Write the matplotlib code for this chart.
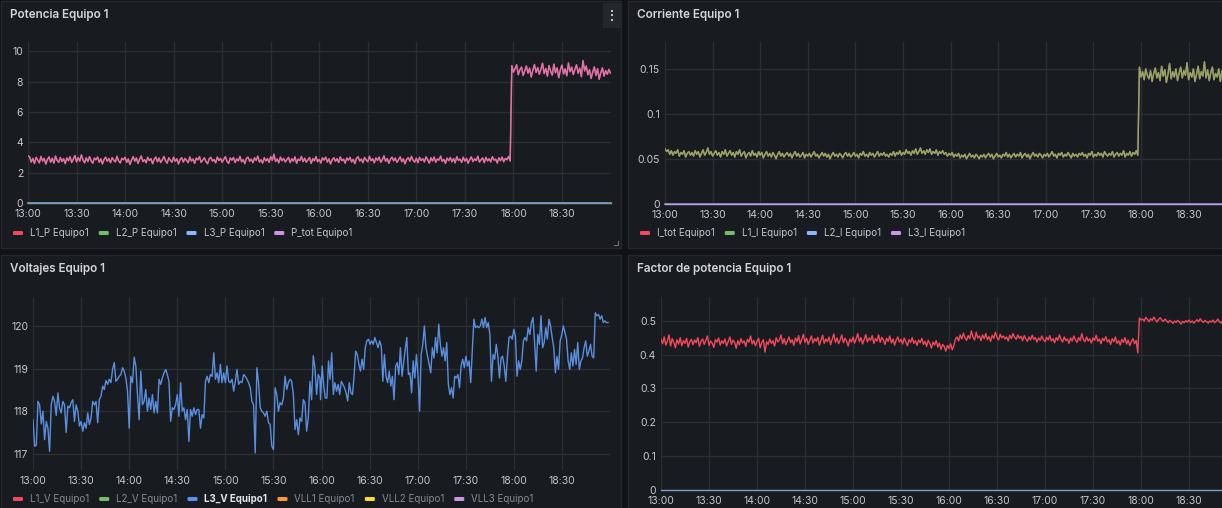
import numpy as np
import matplotlib
matplotlib.use("Agg")
import matplotlib.pyplot as plt
from matplotlib.patches import Rectangle, FancyBboxPatch

# ---------------- DATA ----------------
time_labels = ["13:00", "13:30", "14:00", "14:30", "15:00", "15:30",
               "16:00", "16:30", "17:00", "17:30", "18:00", "18:30"]

# Potencia (1-min samples 13:00 -> 19:00)
L1_P = [
    3.12, 3.05, 2.71, 2.95, 2.62, 3.02, 2.84, 2.66, 3.08, 2.78, 2.95, 2.58, 2.88, 3.05, 2.70, 2.96, 2.64, 3.10, 2.82, 2.69,
    3.01, 2.75, 2.93, 2.61, 2.98, 2.80, 3.06, 2.68, 2.90, 3.14, 2.72, 3.00, 2.77, 3.18, 2.85, 2.66, 2.99, 2.74, 3.07, 2.80,
    2.63, 2.97, 2.86, 3.04, 2.70, 2.92, 2.59, 2.88, 3.03, 2.76, 2.94, 2.67, 3.00, 2.83, 2.72, 3.09, 2.79, 2.65, 2.96, 2.86,
    3.02, 2.69, 2.91, 2.55, 2.84, 3.06, 2.77, 2.98, 2.62, 2.90, 3.11, 2.74, 2.87, 2.66, 3.02, 2.81, 2.93, 2.60, 2.89, 3.04,
    2.73, 2.97, 2.68, 2.85, 3.08, 2.79, 2.64, 2.99, 2.83, 2.70, 3.03, 2.76, 2.92, 2.58, 2.88, 3.00, 2.71, 2.95, 2.82, 2.67,
    3.05, 2.78, 2.91, 2.63, 2.97, 2.86, 3.07, 2.69, 2.84, 2.99, 2.74, 2.60, 2.93, 3.02, 2.77, 2.88, 2.66, 3.04, 2.81, 2.95,
    2.70, 2.89, 3.06, 2.75, 2.62, 2.98, 2.84, 3.01, 2.68, 2.92, 2.79, 3.08, 2.73, 2.87, 2.61, 2.96, 3.03, 2.76, 2.90, 2.67,
    2.99, 2.82, 3.10, 2.71, 2.86, 2.64, 3.00, 2.78, 2.94, 2.69, 3.06, 2.83, 3.22, 2.75, 2.91, 2.66, 3.04, 2.80, 2.95, 2.72,
    2.87, 3.02, 2.68, 2.93, 2.77, 3.05, 2.63, 2.90, 2.81, 3.08, 2.74, 2.96, 2.70, 2.85, 3.01, 2.62, 2.94, 2.79, 3.07, 2.73,
    2.88, 2.65, 2.99, 2.84, 3.03, 2.71, 2.92, 2.59, 2.86, 3.00, 2.76, 2.94, 2.68, 3.05, 2.80, 2.90, 2.64, 2.97, 2.83, 3.02,
    2.72, 2.89, 2.61, 2.95, 3.06, 2.78, 2.91, 2.67, 3.01, 2.85, 2.73, 3.09, 2.80, 2.93, 2.66, 2.98, 2.82, 3.04, 2.70, 2.87,
    3.12, 2.76, 2.94, 2.63, 2.90, 3.03, 2.79, 2.97, 2.69, 2.86, 3.05, 2.74, 2.92, 2.60, 2.88, 3.00, 2.77, 3.08, 2.83, 2.71,
    2.96, 2.67, 3.02, 2.81, 2.93, 2.72, 3.06, 2.85, 2.64, 2.99, 2.78, 3.04, 2.70, 2.91, 2.84, 3.10, 2.75, 2.89, 2.62, 2.97,
    2.80, 3.01, 2.73, 2.94, 2.66, 3.07, 2.82, 2.90, 2.69, 3.03, 2.77, 2.95, 2.63, 2.88, 3.05, 2.74, 2.92, 2.81, 3.09, 2.71,
    2.86, 2.98, 2.67, 3.02, 2.79, 2.93, 2.72, 3.06, 2.84, 2.90, 2.65, 2.99, 2.80, 3.04, 2.73, 2.95, 2.86, 3.08, 2.78,
    9.05, 8.62, 8.85, 9.10, 8.45, 8.78, 8.95, 8.40, 8.70, 9.02, 8.55, 8.88, 8.30, 8.74, 9.12, 8.60, 8.92, 8.48, 8.81, 9.20,
    8.52, 8.86, 8.35, 9.05, 8.68, 8.42, 9.15, 8.58, 8.90, 8.25, 8.76, 9.08, 8.50, 8.84, 8.38, 9.22, 8.64, 8.95, 8.46, 8.80,
    9.10, 8.55, 8.88, 8.32, 9.38, 8.70, 9.02, 8.45, 8.78, 8.20, 8.62, 8.96, 8.40, 8.85, 8.15, 8.58, 8.90, 8.36, 8.72, 8.48,
    8.80, 8.55,
]
L2_P = [0.0] * 361
L3_P = [0.0] * 361

# Corriente
L1_I = [
    0.061, 0.058, 0.060, 0.055, 0.059, 0.054, 0.058, 0.056, 0.060, 0.053, 0.057, 0.055, 0.059, 0.052, 0.056, 0.058, 0.054, 0.057, 0.053, 0.059,
    0.055, 0.058, 0.052, 0.056, 0.060, 0.054, 0.057, 0.062, 0.055, 0.058, 0.053, 0.056, 0.059, 0.054, 0.057, 0.052, 0.058, 0.055, 0.060, 0.053,
    0.056, 0.059, 0.054, 0.057, 0.052, 0.058, 0.055, 0.060, 0.053, 0.056, 0.058, 0.051, 0.055, 0.057, 0.053, 0.059, 0.054, 0.056, 0.052, 0.058,
    0.054, 0.057, 0.051, 0.055, 0.058, 0.053, 0.056, 0.052, 0.057, 0.054, 0.050, 0.055, 0.058, 0.053, 0.056, 0.052, 0.055, 0.057, 0.053, 0.056,
    0.051, 0.055, 0.058, 0.053, 0.056, 0.052, 0.054, 0.057, 0.051, 0.055, 0.053, 0.056, 0.052, 0.055, 0.058, 0.053, 0.055, 0.051, 0.054, 0.057,
    0.053, 0.056, 0.052, 0.055, 0.050, 0.054, 0.057, 0.053, 0.055, 0.052, 0.056, 0.054, 0.051, 0.055, 0.057, 0.053, 0.056, 0.052, 0.054, 0.057,
    0.053, 0.055, 0.051, 0.056, 0.054, 0.058, 0.053, 0.055, 0.052, 0.057, 0.054, 0.056, 0.052, 0.055, 0.058, 0.053, 0.056, 0.054, 0.057, 0.053,
    0.055, 0.052, 0.056, 0.054, 0.058, 0.053, 0.057, 0.055, 0.059, 0.054, 0.057, 0.055, 0.060, 0.056, 0.058, 0.054, 0.059, 0.056, 0.061, 0.055,
    0.058, 0.062, 0.056, 0.059, 0.055, 0.060, 0.057, 0.061, 0.055, 0.058, 0.056, 0.060, 0.054, 0.058, 0.056, 0.059, 0.055, 0.057, 0.053, 0.056,
    0.054, 0.057, 0.052, 0.055, 0.053, 0.056, 0.051, 0.054, 0.052, 0.055, 0.050, 0.053, 0.056, 0.052, 0.054, 0.051, 0.055, 0.053, 0.050, 0.054,
    0.052, 0.055, 0.051, 0.054, 0.056, 0.052, 0.055, 0.050, 0.053, 0.056, 0.052, 0.054, 0.051, 0.055, 0.053, 0.057, 0.052, 0.055, 0.051, 0.054,
    0.056, 0.052, 0.055, 0.053, 0.057, 0.051, 0.054, 0.056, 0.052, 0.055, 0.050, 0.054, 0.057, 0.053, 0.055, 0.052, 0.056, 0.054, 0.051, 0.055,
    0.053, 0.056, 0.052, 0.055, 0.058, 0.053, 0.055, 0.051, 0.056, 0.054, 0.057, 0.052, 0.055, 0.053, 0.057, 0.054, 0.051, 0.056, 0.053, 0.055,
    0.052, 0.056, 0.054, 0.057, 0.053, 0.055, 0.051, 0.056, 0.054, 0.058, 0.052, 0.055, 0.053, 0.057, 0.054, 0.056, 0.052, 0.058, 0.055, 0.053,
    0.056, 0.054, 0.058, 0.052, 0.055, 0.057, 0.053, 0.056, 0.054, 0.059, 0.052, 0.056, 0.054, 0.058, 0.053, 0.057, 0.055, 0.059, 0.054,
    0.152, 0.141, 0.147, 0.138, 0.150, 0.143, 0.139, 0.148, 0.136, 0.145, 0.151, 0.140, 0.146, 0.137, 0.153, 0.142, 0.149, 0.135, 0.144, 0.156,
    0.139, 0.147, 0.141, 0.150, 0.137, 0.145, 0.152, 0.140, 0.148, 0.143, 0.157, 0.138, 0.146, 0.141, 0.150, 0.136, 0.144, 0.153, 0.139, 0.147,
    0.142, 0.158, 0.140, 0.149, 0.137, 0.146, 0.152, 0.138, 0.145, 0.141, 0.150, 0.136, 0.148, 0.143, 0.155, 0.139, 0.146, 0.141, 0.151, 0.137,
    0.145, 0.142,
]
L2_I = [0.0] * 361
L3_I = [0.0] * 361

# Voltaje L3 (two traced stretches: 13:00-15:59 and 15:59-18:59)
volt_a = [
    117.8, 117.18, 117.2, 118.23, 118.15, 117.7, 118.0, 117.33, 117.76, 117.6,
    117.06, 118.15, 118.35, 118.23, 117.9, 118.43, 118.08, 117.96, 118.23, 118.15,
    117.5, 118.12, 118.08, 118.2, 118.27, 117.76, 118.15, 118.0, 117.65, 117.76,
    117.53, 117.73, 117.6, 117.96, 117.69, 117.84, 118.23, 118.15, 118.23, 117.73,
    118.27, 118.35, 118.59, 118.51, 118.72, 118.63, 118.75, 118.67, 118.98, 119.14,
    118.7, 118.75, 118.82, 118.86, 119.02, 118.94, 118.78, 118.47, 117.6, 118.82,
    118.67, 119.27, 119.06, 118.39, 117.8, 118.94, 118.15, 118.23, 118.51, 118.0,
    118.31, 118.04, 118.39, 117.96, 118.23, 117.96, 118.75, 118.63, 118.78, 118.9,
    118.98, 118.86, 118.7, 117.76, 118.08, 118.04, 118.15, 118.39, 117.88, 118.67,
    118.0, 118.08, 117.8, 118.04, 117.29, 118.04, 117.88, 118.08, 117.92, 118.04,
    118.04, 117.6, 117.92, 117.84, 118.7, 118.82, 118.67, 118.86, 118.82, 119.37,
    118.75, 118.9, 118.67, 119.1, 118.67, 118.9, 118.67, 119.06, 118.7, 118.67,
    118.75, 118.47, 118.7, 118.98, 118.63, 118.7, 118.67, 118.86, 118.82, 118.75,
    118.67, 118.55, 118.23, 118.15, 117.02, 119.02, 118.67, 118.08, 118.0, 117.96,
    117.88, 118.0, 117.73, 117.69, 117.18, 117.1, 118.55, 118.39, 118.0, 118.2,
    118.15, 118.31, 118.82, 118.51, 118.67, 118.75, 118.7, 118.39, 117.57, 117.8,
    117.45, 117.84, 117.76, 118.27, 118.2, 117.53, 117.84, 118.7, 118.27, 119.3,
    119.02, 118.39, 118.86, 118.78,
]
volt_b = [
    118.27, 119.06, 118.59, 118.31, 118.31, 119.18, 118.75, 119.37, 118.39, 118.67,
    118.47, 118.63, 118.39, 118.7, 118.63, 118.55, 118.43, 118.24, 118.67, 118.43,
    118.39, 118.82, 119.41, 119.33, 119.1, 118.94, 119.22, 118.98, 119.49, 119.65,
    119.69, 119.57, 119.65, 119.57, 119.73, 119.61, 119.49, 119.65, 119.53, 118.7,
    119.33, 118.82, 118.67, 118.94, 118.59, 118.82, 118.27, 119.06, 119.14, 118.86,
    119.49, 118.82, 119.14, 119.45, 119.73, 118.86, 118.9, 118.43, 119.18, 118.78,
    119.33, 118.86, 118.0, 119.33, 119.57, 120.0, 119.49, 119.29, 119.1, 118.9,
    119.49, 119.25, 119.73, 119.37, 120.04, 119.57, 119.29, 119.49, 119.18, 119.61,
    118.63, 118.39, 118.55, 118.31, 118.82, 118.78, 118.86, 118.55, 119.06, 119.22,
    119.02, 119.29, 119.06, 119.18, 118.67, 119.41, 120.16, 119.96, 120.0, 119.96,
    120.0, 120.16, 119.96, 120.2, 119.96, 120.08, 119.8, 118.7, 119.33, 119.22,
    119.57, 119.29, 118.78, 119.25, 119.29, 119.06, 118.7, 119.29, 119.73, 119.76,
    119.69, 119.92, 119.76, 118.82, 119.18, 118.98, 119.18, 119.65, 119.73, 119.65,
    119.96, 119.8, 120.08, 120.2, 119.61, 118.94, 119.8, 119.57, 120.24, 119.49,
    119.61, 119.96, 119.69, 120.16, 120.0, 119.73, 119.49, 118.9, 119.29, 118.98,
    119.65, 119.8, 120.0, 119.84, 119.69, 119.18, 118.98, 119.37, 119.06, 119.45,
    119.1, 119.61, 118.98, 119.18, 119.25, 119.49, 119.65, 119.29, 119.41, 119.57,
    119.29, 119.25, 120.31, 120.24, 120.27, 120.16, 120.24, 120.08, 120.12, 120.08,
    120.08,
]
volt_a_span = (0.0, 179.0)      # minutes after 13:00
volt_b_span = (179.4, 358.8)

# Factor de potencia
FP_1 = [
    0.445, 0.432, 0.452, 0.428, 0.440, 0.458, 0.425, 0.447, 0.436, 0.420, 0.444, 0.431, 0.450, 0.426, 0.441, 0.433, 0.448, 0.422, 0.438, 0.445,
    0.429, 0.443, 0.435, 0.450, 0.424, 0.439, 0.446, 0.430, 0.442, 0.455, 0.427, 0.440, 0.434, 0.421, 0.444, 0.437, 0.449, 0.428, 0.441, 0.433,
    0.446, 0.425, 0.438, 0.452, 0.430, 0.443, 0.436, 0.418, 0.441, 0.429, 0.447, 0.434, 0.440, 0.424, 0.445, 0.437, 0.455, 0.431, 0.442, 0.426,
    0.439, 0.448, 0.420, 0.436, 0.444, 0.407, 0.438, 0.430, 0.446, 0.433, 0.441, 0.425, 0.450, 0.437, 0.443, 0.458, 0.432, 0.447, 0.429, 0.440,
    0.452, 0.435, 0.444, 0.427, 0.449, 0.438, 0.456, 0.431, 0.445, 0.460, 0.436, 0.448, 0.430, 0.442, 0.455, 0.434, 0.447, 0.439, 0.451, 0.428,
    0.443, 0.457, 0.433, 0.446, 0.438, 0.452, 0.429, 0.445, 0.461, 0.436, 0.449, 0.432, 0.444, 0.458, 0.435, 0.448, 0.440, 0.425, 0.446, 0.437,
    0.452, 0.434, 0.447, 0.462, 0.438, 0.450, 0.431, 0.445, 0.459, 0.437, 0.449, 0.442, 0.456, 0.433, 0.447, 0.440, 0.458, 0.436, 0.451, 0.443,
    0.430, 0.448, 0.439, 0.455, 0.434, 0.446, 0.428, 0.443, 0.452, 0.437, 0.445, 0.431, 0.449, 0.438, 0.426, 0.444, 0.436, 0.450, 0.433, 0.441,
    0.427, 0.443, 0.435, 0.448, 0.430, 0.439, 0.424, 0.442, 0.433, 0.419, 0.437, 0.428, 0.441, 0.422, 0.434, 0.415, 0.430, 0.424, 0.410, 0.427,
    0.418, 0.432, 0.414, 0.426, 0.445, 0.452, 0.440, 0.458, 0.446, 0.463, 0.449, 0.442, 0.456, 0.447, 0.470, 0.451, 0.443, 0.466, 0.449, 0.455,
    0.441, 0.458, 0.447, 0.462, 0.444, 0.453, 0.439, 0.457, 0.448, 0.466, 0.450, 0.443, 0.460, 0.449, 0.455, 0.446, 0.452, 0.440, 0.457, 0.447,
    0.462, 0.451, 0.445, 0.458, 0.448, 0.454, 0.441, 0.456, 0.446, 0.439, 0.452, 0.443, 0.457, 0.445, 0.450, 0.437, 0.449, 0.442, 0.455, 0.444,
    0.438, 0.451, 0.443, 0.456, 0.440, 0.447, 0.435, 0.450, 0.442, 0.458, 0.445, 0.437, 0.452, 0.441, 0.446, 0.433, 0.449, 0.440, 0.455, 0.443,
    0.436, 0.450, 0.441, 0.462, 0.444, 0.438, 0.452, 0.440, 0.447, 0.434, 0.449, 0.442, 0.457, 0.439, 0.446, 0.432, 0.448, 0.441, 0.453, 0.437,
    0.444, 0.430, 0.447, 0.438, 0.452, 0.433, 0.441, 0.428, 0.445, 0.436, 0.450, 0.431, 0.443, 0.426, 0.439, 0.447, 0.432, 0.442, 0.405,
    0.508, 0.502, 0.505, 0.499, 0.510, 0.504, 0.497, 0.506, 0.501, 0.511, 0.503, 0.496, 0.504, 0.509, 0.502, 0.498, 0.505, 0.500, 0.494, 0.501,
    0.497, 0.492, 0.499, 0.495, 0.501, 0.496, 0.490, 0.498, 0.494, 0.500, 0.496, 0.502, 0.495, 0.499, 0.493, 0.498, 0.503, 0.497, 0.506, 0.499,
    0.495, 0.501, 0.497, 0.493, 0.499, 0.496, 0.502, 0.494, 0.498, 0.505, 0.497, 0.493, 0.500, 0.496, 0.491, 0.498, 0.495, 0.501, 0.497, 0.494,
    0.499, 0.496,
]
FP_2 = [0.0] * 361

p_ticks = [0, 2, 4, 6, 8, 10]
p_ticklabels = ["0", "2", "4", "6", "8", "10"]
i_ticks = [0, 0.05, 0.1, 0.15]
i_ticklabels = ["0", "0.05", "0.1", "0.15"]
v_ticks = [117, 118, 119, 120]
v_ticklabels = ["117", "118", "119", "120"]
f_ticks = [0, 0.1, 0.2, 0.3, 0.4, 0.5]
f_ticklabels = ["0", "0.1", "0.2", "0.3", "0.4", "0.5"]

# ---------------- STYLE ----------------
W, H, DPI = 1222, 508, 100
PAGE = "#111217"
PANEL = "#181b1f"
BORDER = "#25282e"
GRID = "#2b2e34"
TXT = "#c7c8d0"
TITLE = "#d4d5dc"
DIM = "#8a8b94"
RED, GREEN, LBLUE, PURPLE = "#f2495c", "#73bf69", "#8ab8ff", "#ca95e5"
BLUE, ORANGE, YELLOW = "#5794f2", "#ff9830", "#fade2a"

plt.rcParams['font.family'] = ['Inter', 'DejaVu Sans']

fig = plt.figure(figsize=(W / DPI, H / DPI), dpi=DPI, facecolor=PAGE)


def fx(px):
    return px / W


def fy(py):
    return 1 - py / H


def panel(x0, y0, x1, y1, title):
    fig.patches.append(Rectangle((fx(x0), fy(y1)), (x1 - x0) / W, (y1 - y0) / H,
                                 transform=fig.transFigure, facecolor=PANEL,
                                 edgecolor=BORDER, lw=1, zorder=-5))
    fig.text(fx(x0 + 9), fy(y0 + 14), title, color=TITLE, fontsize=8.4,
             fontweight='semibold', va='center', ha='left')


def make_ax(xl, xr, yt, yb, ylim, ticks, labels):
    ax = fig.add_axes([fx(xl), fy(yb), (xr - xl) / W, (yb - yt) / H])
    ax.set_zorder(2)
    ax.set_facecolor('none')
    for s in ax.spines.values():
        s.set_visible(False)
    ax.set_xlim(0, 360)
    ax.set_ylim(*ylim)
    ax.set_xticks(np.arange(len(time_labels)) * 30)
    ax.set_xticklabels(time_labels)
    ax.set_yticks(ticks)
    ax.set_yticklabels(labels)
    ax.grid(True, color=GRID, lw=1)
    ax.set_axisbelow(True)
    ax.tick_params(length=0, colors=TXT, labelsize=7.5)
    ax.tick_params(axis='x', pad=4.3)
    ax.tick_params(axis='y', pad=3.6)
    return ax


def legend(items, x0, yc, styles=None):
    r = fig.canvas.get_renderer()
    x = x0
    for i, (lab, col) in enumerate(items):
        fig.patches.append(FancyBboxPatch((fx(x), fy(yc + 2)), 10 / W, 4 / H,
                                          boxstyle="round,pad=0,rounding_size=0.0015",
                                          transform=fig.transFigure, facecolor=col,
                                          edgecolor='none'))
        c, w = TXT, 'normal'
        if styles is not None:
            c, w = styles[i]
        t = fig.text(fx(x + 17), fy(yc), lab, color=c, fontsize=7.0,
                     fontweight=w, va='center', ha='left')
        bb = t.get_window_extent(r)
        x = bb.x1 + 10


t = np.arange(len(L1_P))

# panels
panel(1, 1, 621, 248, "Potencia Equipo 1")
panel(628, 1, 1250, 248, "Corriente Equipo 1")
panel(1, 255, 621, 520, "Voltajes Equipo 1")
panel(628, 255, 1250, 520, "Factor de potencia Equipo 1")

# panel menu icon
fig.patches.append(Rectangle((fx(603), fy(28)), 18 / W, 25 / H, transform=fig.transFigure,
                             facecolor="#24272d", edgecolor='none'))
for dy in (10.5, 15, 19.5):
    fig.patches.append(Rectangle((fx(611), fy(dy + 1)), 2 / W, 2 / H, transform=fig.transFigure,
                                 facecolor="#c0c1c8", edgecolor='none'))
# resize handle
fig.lines.append(plt.Line2D([fx(614), fx(618), fx(618)], [fy(245), fy(245), fy(241)],
                            transform=fig.transFigure, color="#6e6f77", lw=0.8))

# --- Potencia ---
ax1 = make_ax(28, 610.5, 42, 203.3, (0, 10.6), p_ticks, p_ticklabels)
P_tot = np.array(L1_P) + np.array(L2_P) + np.array(L3_P)
ax1.plot(t, L1_P, color=RED, lw=1.1)
ax1.plot(t, L2_P, color=GREEN, lw=1.0, clip_on=False)
ax1.plot(t, L3_P, color="#7d9ccb", lw=1.2, clip_on=False)
ax1.plot(t, P_tot, color=PURPLE, lw=1.0, alpha=0.6)
legend([("L1_P Equipo1", RED), ("L2_P Equipo1", GREEN), ("L3_P Equipo1", LBLUE),
        ("P_tot Equipo1", PURPLE)], 13, 233)

# --- Corriente ---
ax2 = make_ax(665, 1236.2, 42, 203.7, (0, 0.18), i_ticks, i_ticklabels)
I_tot = np.array(L1_I) + np.array(L2_I) + np.array(L3_I)
ax2.plot(t, I_tot, color=RED, lw=1.1)
ax2.plot(t, L1_I, color=GREEN, lw=1.0, alpha=0.85)
ax2.plot(t, L2_I, color=LBLUE, lw=1.0, clip_on=False)
ax2.plot(t, L3_I, color=PURPLE, lw=1.2, clip_on=False, alpha=0.8)
legend([("I_tot Equipo1", RED), ("L1_I Equipo1", GREEN), ("L2_I Equipo1", LBLUE),
        ("L3_I Equipo1", PURPLE)], 640, 233)

# --- Voltajes ---
ax3 = make_ax(33, 610, 297, 470, (116.62, 120.68), v_ticks, v_ticklabels)
tv = np.concatenate([np.linspace(volt_a_span[0], volt_a_span[1], len(volt_a)),
                     np.linspace(volt_b_span[0], volt_b_span[1], len(volt_b))])
vv = np.concatenate([volt_a, volt_b])
ax3.plot(tv, vv, color="#5a8fe0", lw=1.0)
legend([("L1_V Equipo1", RED), ("L2_V Equipo1", GREEN), ("L3_V Equipo1", BLUE),
        ("VLL1 Equipo1", ORANGE), ("VLL2 Equipo1", YELLOW), ("VLL3 Equipo1", PURPLE)],
       13, 499,
       styles=[(DIM, 'normal'), (DIM, 'normal'), ("#e6e7ec", 'bold'),
               (DIM, 'normal'), (DIM, 'normal'), (DIM, 'normal')])

# --- Factor de potencia ---
ax4 = make_ax(661, 1237, 297, 490, (0, 0.57), f_ticks, f_ticklabels)
ax4.plot(t, FP_1, color=RED, lw=1.0)
ax4.plot(t, FP_2, color="#7d9ccb", lw=1.0, clip_on=False)

fig.savefig("out.png", dpi=DPI, facecolor=PAGE)
